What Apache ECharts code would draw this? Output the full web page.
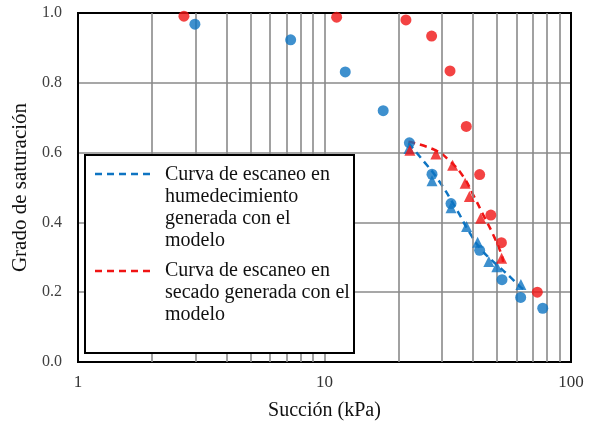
<!DOCTYPE html>
<html>
<head>
<meta charset="utf-8">
<script src="https://cdn.jsdelivr.net/npm/echarts@6/dist/echarts.min.js"></script>
<style>html,body{margin:0;padding:0;background:#fff;}#c{width:594px;height:430px;}</style>
</head>
<body>
<div id="c"></div>
<script>
// ---- data ----
var yTicks = [0, 0.2, 0.4, 0.6, 0.8, 1.0];
var xMajorTicks = [1, 10, 100];
var xMinorGrid = [2, 3, 4, 5, 6, 7, 8, 9, 20, 30, 40, 50, 60, 70, 80, 90];

var wetCircles = [[2.98,0.968],[7.29,0.923],[12.14,0.831],[17.3,0.720],[22.1,0.628],[27.3,0.538],[32.6,0.454],[42.6,0.320],[52.5,0.236],[62.5,0.185],[76.8,0.154]];
var wetTriangles = [[22.0,0.612],[27.3,0.519],[32.6,0.442],[37.7,0.388],[41.8,0.343],[46.4,0.288],[50.0,0.273],[62.6,0.222]];
var dryCircles = [[2.69,0.991],[11.2,0.988],[21.4,0.980],[27.2,0.934],[32.3,0.834],[37.6,0.675],[42.6,0.537],[47.3,0.421],[52.2,0.342],[73.0,0.200]];
var dryTriangles = [[22.2,0.607],[28.3,0.596],[33.1,0.564],[37.2,0.512],[38.7,0.474],[43.0,0.412],[52.3,0.297]];
var wetModel = [[21.9,0.627],[24.4,0.588],[29.0,0.521],[34.4,0.436],[38.9,0.369],[43.4,0.321],[49.2,0.283],[56.6,0.244],[62.1,0.216],[65.0,0.206]];
var dryModel = [[21.9,0.631],[28.1,0.607],[32.4,0.574],[36.6,0.531],[40.1,0.479],[44.1,0.421],[48.4,0.364],[52.3,0.307],[53.0,0.287]];

var legendWet = "Curva de escaneo en\nhumedecimiento\ngenerada con el\nmodelo";
var legendDry = "Curva de escaneo en\nsecado generada con el\nmodelo";

var BLUE = '#0E74C2';
var RED = '#F01414';
var GRID = '#8a8a8a';
var SERIF = '"Liberation Serif", "DejaVu Serif", serif';

var chart = echarts.init(document.getElementById('c'));
chart.setOption({
  animation: false,
  backgroundColor: '#fff',
  grid: { left: 78, top: 13, right: 23, bottom: 68, show: true, borderColor: '#000', borderWidth: 2, backgroundColor: 'transparent', z: 3 },
  xAxis: {
    type: 'log', logBase: 10, min: 1, max: 100,
    name: 'Succión (kPa)', nameLocation: 'middle', nameGap: 39,
    nameTextStyle: { fontFamily: SERIF, fontSize: 20, color: '#111' },
    axisLine: { show: false }, axisTick: { show: false },
    axisLabel: { fontFamily: SERIF, fontSize: 17, color: '#333', margin: 12,
      formatter: function (v) { return xMajorTicks.indexOf(v) >= 0 ? String(v) : ''; } },
    splitLine: { show: true, lineStyle: { color: GRID, width: 1.6 } }
  },
  yAxis: {
    type: 'value', min: 0, max: 1, interval: 0.2,
    name: 'Grado de saturación', nameLocation: 'middle', nameGap: 47,
    nameTextStyle: { fontFamily: SERIF, fontSize: 21, color: '#111' },
    axisLine: { show: false }, axisTick: { show: false },
    axisLabel: { fontFamily: SERIF, fontSize: 16, color: '#404040', margin: 16,
      formatter: function (v) { return v.toFixed(1); } },
    splitLine: { show: true, lineStyle: { color: GRID, width: 1.6 } }
  },
  series: [
    { name: 'grid', type: 'line', data: [], silent: true,
      markLine: { silent: true, symbol: 'none', label: { show: false },
        lineStyle: { color: GRID, width: 1.6, type: 'solid' },
        data: xMinorGrid.map(function (v) { return { xAxis: v }; }) } },
    { name: legendWet, type: 'line', data: wetModel, smooth: true, showSymbol: false, z: 4,
      lineStyle: { color: BLUE, width: 2.5, type: [7, 5] } },
    { name: legendDry, type: 'line', data: dryModel, smooth: true, showSymbol: false, z: 4,
      lineStyle: { color: RED, width: 2.5, type: [7, 5] } },
    { name: 'Humedecimiento (círculos)', type: 'scatter', data: wetCircles, symbol: 'circle', symbolSize: 11, z: 5, itemStyle: { color: BLUE } },
    { name: 'Humedecimiento (triángulos)', type: 'scatter', data: wetTriangles, symbol: 'triangle', symbolSize: 11, z: 5, itemStyle: { color: BLUE } },
    { name: 'Secado (círculos)', type: 'scatter', data: dryCircles, symbol: 'circle', symbolSize: 11, z: 6, itemStyle: { color: RED } },
    { name: 'Secado (triángulos)', type: 'scatter', data: dryTriangles, symbol: 'triangle', symbolSize: 11, z: 6, itemStyle: { color: RED } }
  ],
  graphic: [
    { type: 'rect', z: 100, shape: { x: 85, y: 155, width: 269, height: 198 },
      style: { fill: '#fff', stroke: '#000', lineWidth: 2 } },
    { type: 'line', z: 101, shape: { x1: 95, y1: 174, x2: 155, y2: 174 },
      style: { stroke: BLUE, lineWidth: 2.5, lineDash: [7, 5] } },
    { type: 'text', z: 101, left: 165, top: 164,
      style: { text: legendWet, font: '20px ' + SERIF, fill: '#111', lineHeight: 22 } },
    { type: 'line', z: 101, shape: { x1: 95, y1: 271, x2: 155, y2: 271 },
      style: { stroke: RED, lineWidth: 2.5, lineDash: [7, 5] } },
    { type: 'text', z: 101, left: 165, top: 260,
      style: { text: legendDry, font: '20px ' + SERIF, fill: '#111', lineHeight: 22 } }
  ]
});
</script>
</body>
</html>
